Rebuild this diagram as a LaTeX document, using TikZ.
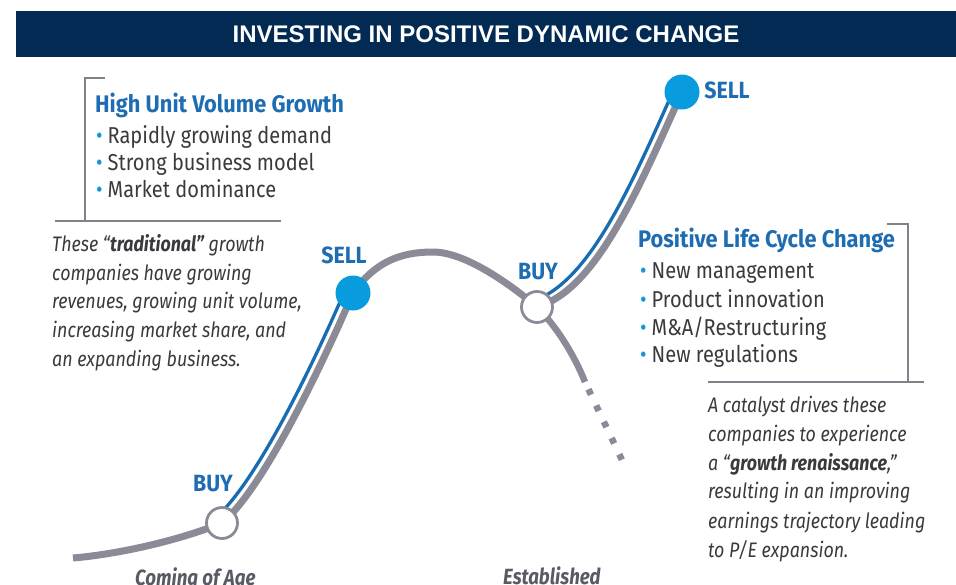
\documentclass[tikz,border=0pt]{standalone}
\usepackage{fontspec}
\setmainfont{Liberation Sans}
\newfontfamily\cnd{Fira Sans}[FakeStretch=0.87]
\newfontfamily\cndb{Fira Sans}[FakeStretch=0.91]
\newfontfamily\cndi{Fira Sans}[FakeStretch=0.85]
\definecolor{navy}{RGB}{2,42,82}
\definecolor{curvegray}{RGB}{138,139,150}
\definecolor{brgray}{RGB}{128,129,138}
\definecolor{lineblue}{RGB}{24,108,178}
\definecolor{sellblue}{RGB}{8,156,222}
\definecolor{headblue}{RGB}{30,108,178}
\definecolor{bulblue}{RGB}{20,150,215}
\definecolor{bodytext}{RGB}{58,58,62}
\definecolor{stagetext}{RGB}{88,90,100}
\tikzset{
  curve/.style={draw=curvegray, line width=7pt},
  blueline/.style={draw=lineblue, line width=3.3pt, transform canvas={shift={(-7,-5)}}},
  buycirc/.style={circle, draw=curvegray, line width=2.8pt, fill=white, minimum size=31pt, inner sep=0pt},
  sellcirc/.style={circle, fill=sellblue, minimum size=35pt, inner sep=0pt},
  tag/.style={font=\cndb\bfseries\fontsize{23.5}{23.5}\selectfont, text=headblue, inner sep=0pt, anchor=center},
  head/.style={font=\cndb\bfseries\fontsize{24}{24}\selectfont, text=headblue, inner sep=0pt, anchor=base west},
  bul/.style={font=\cnd\fontsize{23}{23}\selectfont, text=bodytext, inner sep=0pt, anchor=base west},
  ital/.style={font=\cndi\itshape\fontsize{21}{21}\selectfont, text=bodytext, inner sep=0pt, anchor=base west},
  stage/.style={font=\cndi\bfseries\itshape\fontsize{22}{22}\selectfont, text=stagetext, inner sep=0pt, anchor=base west},
  bracket/.style={draw=brgray, line width=2.4pt},
}
\newcommand{\bl}{\textcolor{bulblue}{•}\hspace{5pt}}
\begin{document}
\begin{tikzpicture}[x=1pt,y=-1pt]
\useasboundingbox (0,0) rectangle (956,584);
\clip (0,0) rectangle (956,584);
% title bar
\fill[navy] (16,11) rectangle (956,57);
\node[font=\bfseries\fontsize{24}{24}\selectfont, text=white, inner sep=0pt] (title) at (486,34) {INVESTING IN POSITIVE DYNAMIC CHANGE};

% key points of the curve
\coordinate (p0) at (73,558);
\coordinate (pb1) at (222,523);
\coordinate (ps1) at (353,293);
\coordinate (ppk) at (433,252);
\coordinate (pb2) at (537,307);
\coordinate (ps2) at (682,92);
\coordinate (pe1) at (585,382);
\coordinate (pe2) at (622,460);

% gray curve
\draw[curve] (p0) .. controls (120,554) and (180,540) .. (pb1)
  .. controls (262,490) and (320,370) .. (ps1)
  .. controls (375,262) and (400,252) .. (ppk)
  .. controls (465,252) and (510,284) .. (pb2);
\draw[curve] (pb2) .. controls (595,290) and (636,195) .. (ps2);
\draw[curve, line width=6.5pt] (pb2) .. controls (555,325) and (573,352) .. (pe1);
\draw[curve, line width=6.5pt, dash pattern=on 6pt off 12pt, dash phase=10pt] (pe1) -- (pe2);

% blue parallels
\draw[blueline] (pb1) .. controls (262,490) and (320,370) .. (ps1);
\draw[blueline] (pb2) .. controls (595,290) and (636,195) .. (ps2);

% circles
\node[buycirc] (buy1) at (pb1) {};
\node[sellcirc] (sell1) at (ps1) {};
\node[buycirc] (buy2) at (pb2) {};
\node[sellcirc] (sell2) at (ps2) {};

% labels
\node[tag] (lbuy1) at (213,483.5) {BUY};
\node[tag] (lsell1) at (344,255.5) {SELL};
\node[tag] (lbuy2) at (538,271.5) {BUY};
\node[tag] (lsell2) at (727,90) {SELL};

% left block
\draw[bracket] (105,78) -- (85,78) -- (85,221);
\draw[bracket] (55,221) -- (281,221);
\node[head] (lhead) at (95,112) {High Unit Volume Growth};
\node[bul] (lb1) at (96,143) {\bl Rapidly growing demand};
\node[bul] (lb2) at (96,170) {\bl Strong business model};
\node[bul] (lb3) at (96,197) {\bl Market dominance};
\node[ital] (li1) at (52,251) {These “\textbf{traditional”} growth};
\node[ital] (li2) at (52,280) {companies have growing};
\node[ital] (li3) at (52,308) {revenues, growing unit volume,};
\node[ital] (li4) at (52,337) {increasing market share, and};
\node[ital] (li5) at (52,366) {an expanding business.};

% right block
\draw[bracket] (887,224) -- (908,224) -- (908,382);
\draw[bracket] (708,382) -- (924,382);
\node[head] (rhead) at (638,247) {Positive Life Cycle Change};
\node[bul] (rb1) at (640,278) {\bl New management};
\node[bul] (rb2) at (640,307) {\bl Product innovation};
\node[bul] (rb3) at (640,335) {\bl M\&A/Restructuring};
\node[bul] (rb4) at (640,362) {\bl New regulations};
\node[ital] (ri1) at (708,412) {A catalyst drives these};
\node[ital] (ri2) at (708,441) {companies to experience};
\node[ital] (ri3) at (708,470) {a “\textbf{growth renaissance},”};
\node[ital] (ri4) at (708,498) {resulting in an improving};
\node[ital] (ri5) at (708,528) {earnings trajectory leading};
\node[ital] (ri6) at (708,557) {to P/E expansion.};

% stages
\node[stage] (st1) at (135,585) {Coming of Age};
\node[stage] (st2) at (503,584) {Established};
\end{tikzpicture}
\end{document}
